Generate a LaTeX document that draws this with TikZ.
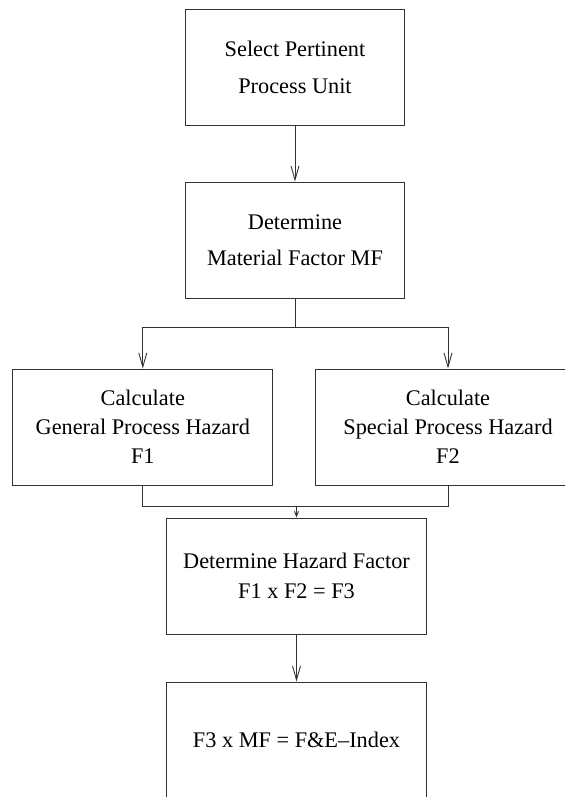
\documentclass[tikz,border=0pt]{standalone}
\usepackage{fontspec}
\setmainfont{Liberation Serif}
\usetikzlibrary{positioning,arrows.meta}
\tikzset{box/.style={draw=black!80,line width=.9pt,minimum width=219pt,minimum height=116pt,inner sep=0pt,align=center,font=\fontsize{22.3}{29}\selectfont},
  widebox/.style={box,minimum width=260pt},
  link/.style={draw=black!80,line width=.9pt},
  arr/.style={link,-{Straight Barb[length=14pt,width=8pt]}},
  tinyarr/.style={link,-{Straight Barb[length=5pt,width=4pt]}}}
\begin{document}
\begin{tikzpicture}[x=1pt,y=-1pt]
\clip (0,0) rectangle (565,797);
\node[box] (select) at (295,67.5) {Select Pertinent\\[8pt] Process Unit};
\node[box] (material) at (295,240) {Determine\\[6.7pt] Material Factor MF};
\node[widebox] (general) at (142.8,427) {Calculate\\General Process Hazard\\F1};
\node[widebox,minimum width=266pt] (special) at (448,427) {Calculate\\Special Process Hazard\\F2};
\node[widebox] (hazard) at (296.5,576) {Determine Hazard Factor\\[1pt] F1 x F2 = F3};
\node[widebox] (index) at (296.5,740) {F3 x MF = F\&E--Index};
% connectors
\coordinate (split) at (material.south |- 0,327);
\coordinate (merge) at (hazard.north |- 0,506.7);
\draw[arr] (select) -- (material);
\draw[link] (material.south) -- (split);
\draw[arr] (split) -| (general.north);
\draw[arr] (split) -| (special.north);
\draw[link] (general.south) |- (merge) -| (special.south);
\draw[tinyarr] (merge) -- (hazard.north);
\draw[arr] (hazard) -- (index);
\end{tikzpicture}
\end{document}
